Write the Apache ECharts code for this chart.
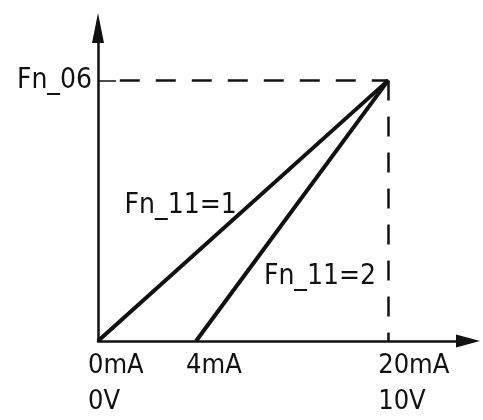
<!DOCTYPE html>
<html>
<head>
<meta charset="utf-8">
<script src="https://cdn.jsdelivr.net/npm/echarts@6/dist/echarts.min.js"></script>
<style>
  html, body { margin: 0; padding: 0; background: #fff; }
  #chart { width: 483px; height: 420px; }
</style>
</head>
<body>
<div id="chart"></div>
<script>
// x positions as drawn (the sketch is not to scale), and their labels
const xTicks = [0, 6.76, 20]
const xTickLabels = ['0mA\n0V', '4mA', '20mA\n10V']
const yTicks = [100]
const yTickLabels = ['Fn_06']

// Fn_11=1 : 0mA..20mA -> 0..Fn_06
const line1 = [[0, 0], [20, 100]]
// Fn_11=2 : 4mA..20mA -> 0..Fn_06
const line2 = [[6.76, 0], [20, 100]]

const labelPoints = [
  { name: 'Fn_11=1', coord: [5.7, 52] },
  { name: 'Fn_11=2', coord: [15.3, 24.5] }
]

const font = '"DejaVu Sans Condensed", sans-serif'
const ink = '#111'

const chart = echarts.init(document.getElementById('chart'))

const option = {
  animation: false,
  grid: { left: 98, right: 15, top: 28, bottom: 70 },
  xAxis: {
    type: 'value',
    min: 0,
    max: 25.5,
    splitLine: { show: false },
    axisLine: {
      lineStyle: { color: ink, width: 2.5 },
      symbol: ['none', 'triangle'],
      symbolSize: [13, 24]
    },
    axisTick: { show: false },
    axisLabel: {
      customValues: xTicks,
      formatter: v => xTickLabels[xTicks.indexOf(v)] || '',
      color: ink,
      fontFamily: font,
      fontSize: 27,
      lineHeight: 36,
      align: 'left',
      padding: [0, 0, 0, -10],
      margin: 7
    }
  },
  yAxis: {
    type: 'value',
    min: 0,
    max: 120.1,
    splitLine: { show: false },
    axisLine: {
      lineStyle: { color: ink, width: 2.5 },
      symbol: ['none', 'triangle'],
      symbolSize: [12, 30]
    },
    axisTick: {
      customValues: yTicks,
      inside: true,
      length: 18,
      lineStyle: { color: ink, width: 1.5 }
    },
    axisLabel: {
      customValues: yTicks,
      formatter: v => yTickLabels[yTicks.indexOf(v)] || '',
      color: ink,
      fontFamily: font,
      fontSize: 28,
      margin: 6
    }
  },
  series: [
    {
      type: 'line',
      data: line1,
      symbol: 'none',
      lineStyle: { color: ink, width: 4 },
      markLine: {
        silent: true,
        symbol: 'none',
        label: { show: false },
        lineStyle: { color: ink, width: 2.5, type: [20, 16] },
        data: [
          [{ coord: [1.5, 100] }, { coord: [20, 100] }],
          [{ coord: [20, 100] }, { coord: [20, 0] }]
        ]
      },
      markPoint: {
        symbolSize: 0,
        label: {
          show: true,
          formatter: p => p.name,
          color: ink,
          fontFamily: font,
          fontSize: 28
        },
        data: labelPoints
      }
    },
    {
      type: 'line',
      data: line2,
      symbol: 'none',
      lineStyle: { color: ink, width: 4 }
    }
  ]
}

chart.setOption(option)
</script>
</body>
</html>
